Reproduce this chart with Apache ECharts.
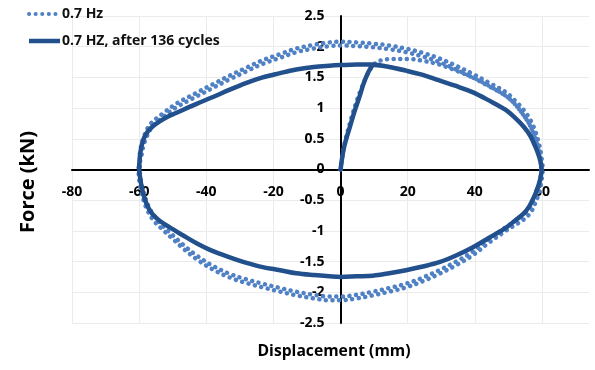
<!DOCTYPE html>
<html>
<head>
<meta charset="utf-8">
<script src="https://cdn.jsdelivr.net/npm/echarts@6/dist/echarts.min.js"></script>
<style>
  html, body { margin: 0; padding: 0; background: #fff; }
  #chart { width: 595px; height: 370px; }
</style>
</head>
<body>
<div id="chart"></div>
<script>
// Force–displacement hysteresis loops, 0.7 Hz test

const seriesNames = ['0.7 Hz', '0.7 HZ, after 136 cycles'];
const xTicks = [-80, -60, -40, -20, 0, 20, 40, 60];
const yTicks = [-2.5, -2, -1.5, -1, -0.5, 0, 0.5, 1, 1.5, 2, 2.5];

// 0.7 Hz: first loading branch, then repeated cycles (inner and outer edge of the band)
const lightLoading = [[0,0],[1.2,0.42],[3,0.8],[5,1.15],[6.5,1.36],[8.5,1.6],[10.6,1.74],[13,1.79],[15.5,1.8],[20,1.8],[24.5,1.77],[29.4,1.71],[34,1.62],[38,1.53],[42,1.43]];
const lightTopA = [[-59.8,0],[-59.4,0.2],[-58.7,0.39],[-57.6,0.55],[-56.3,0.68],[-53,0.85],[-49,1.01],[-45,1.13],[-42.9,1.19],[-38,1.33],[-33,1.47],[-28,1.6],[-23.2,1.72],[-18,1.82],[-13.2,1.91],[-8,1.97],[-3.3,2.01],[0,2.02],[4.8,2.01],[9.6,1.99],[14.5,1.96],[19.5,1.91],[24.5,1.84],[29.4,1.75],[34.4,1.63],[39.3,1.5],[44,1.36],[49.2,1.2],[52,1.06],[54.3,0.9],[56.3,0.73],[57.7,0.55],[58.8,0.36],[59.4,0.18],[59.8,0]];
const lightBottomA = [[59.8,0],[59.4,-0.16],[58.7,-0.32],[57.6,-0.49],[56.1,-0.65],[53.8,-0.77],[51.5,-0.86],[49.2,-0.94],[44,-1.14],[39.3,-1.34],[34.4,-1.5],[29.4,-1.64],[24.5,-1.76],[19.5,-1.86],[14.5,-1.93],[9.6,-1.99],[4.8,-2.04],[0,-2.07],[-3.3,-2.07],[-8,-2.04],[-13.2,-1.99],[-18,-1.93],[-23.2,-1.86],[-28,-1.79],[-33,-1.7],[-38,-1.57],[-42.9,-1.4],[-47,-1.22],[-50,-1.07],[-53,-0.92],[-55.3,-0.77],[-57.1,-0.61],[-58.4,-0.42],[-59.3,-0.23],[-59.8,0]];
const lightTopB = [[-60.2,0],[-59.8,0.24],[-59.1,0.45],[-58,0.61],[-56.7,0.74],[-53,0.91],[-49,1.07],[-45,1.19],[-42.9,1.25],[-38,1.39],[-33,1.53],[-28,1.66],[-23.2,1.78],[-18,1.88],[-13.2,1.97],[-8,2.03],[-3.3,2.07],[0,2.08],[4.8,2.07],[9.6,2.05],[14.5,2.02],[19.5,1.97],[24.5,1.9],[29.4,1.81],[34.4,1.69],[39.3,1.56],[44,1.42],[49.2,1.26],[52,1.12],[54.7,0.96],[56.7,0.79],[58.1,0.61],[59.2,0.4],[59.8,0.22],[60.2,0]];
const lightBottomB = [[60.2,0],[59.8,-0.2],[59.1,-0.38],[58,-0.55],[56.5,-0.71],[54.2,-0.83],[51.5,-0.92],[49.2,-1],[44,-1.2],[39.3,-1.4],[34.4,-1.56],[29.4,-1.7],[24.5,-1.82],[19.5,-1.92],[14.5,-1.99],[9.6,-2.05],[4.8,-2.1],[0,-2.13],[-3.3,-2.13],[-8,-2.1],[-13.2,-2.05],[-18,-1.99],[-23.2,-1.92],[-28,-1.85],[-33,-1.76],[-38,-1.63],[-42.9,-1.46],[-47,-1.28],[-50,-1.13],[-53,-0.98],[-55.7,-0.83],[-57.5,-0.67],[-58.8,-0.48],[-59.7,-0.27],[-60.2,0]];

// After 136 cycles: loading branch, then the steady loop
const darkLoading = [[0,0],[0.8,0.3],[1.7,0.5],[2.7,0.68],[4,0.92],[5.6,1.18],[7,1.42],[8.6,1.62],[10,1.7]];
const darkTop = [[-60,0],[-59.8,0.2],[-59.3,0.38],[-58.5,0.52],[-57.4,0.62],[-56,0.7],[-54,0.78],[-51.5,0.86],[-49,0.92],[-45,1.02],[-42.9,1.07],[-38,1.18],[-33,1.3],[-28,1.41],[-23.2,1.5],[-18,1.57],[-13.2,1.63],[-8,1.67],[-3.3,1.69],[0,1.7],[4.8,1.71],[9.6,1.71],[14.5,1.67],[19.5,1.61],[24.5,1.54],[29.4,1.45],[34.4,1.36],[39.3,1.26],[44,1.13],[49.2,0.97],[52,0.84],[54.5,0.7],[56.5,0.55],[57.8,0.4],[58.9,0.25],[59.6,0.12],[59.9,0]];
const darkBottom = [[59.9,0],[59.5,-0.15],[58.7,-0.3],[57.6,-0.45],[56.2,-0.6],[54.5,-0.72],[52,-0.83],[49.2,-0.95],[44,-1.12],[39.3,-1.27],[34.4,-1.4],[29.4,-1.51],[24.5,-1.58],[19.5,-1.64],[14.5,-1.69],[9.6,-1.73],[4.8,-1.74],[0,-1.75],[-3.3,-1.74],[-8,-1.72],[-13.2,-1.69],[-18,-1.64],[-23.2,-1.59],[-28,-1.52],[-33,-1.43],[-38,-1.33],[-42.9,-1.2],[-47,-1.07],[-51,-0.94],[-54,-0.83],[-56,-0.73],[-57.3,-0.62],[-58.5,-0.45],[-59.3,-0.27],[-59.8,-0.1],[-60,0]];

const lightPath = [].concat(
  lightLoading,
  lightTopA.filter(p => p[0] >= 49),
  lightBottomA.slice(1),
  lightTopB.slice(1),
  lightBottomB.slice(1),
  lightTopA.slice(1)
);
const darkPath = [].concat(
  darkLoading,
  darkTop.filter(p => p[0] >= 14),
  darkBottom.slice(1),
  darkTop.slice(1)
);

const FONT = '"Open Sans", "Liberation Sans", sans-serif';
const LIGHT = '#4f81c4';
const DARK = '#22508c';
const LIGHT_DASH = [0.1, 6.5];

// plot box and axis ranges
const W = 595, H = 370;
const GRID = { left: 72, right: 6, top: 16, bottom: 47 };
const X_MIN = xTicks[0], X_MAX = 74;
const Y_MIN = yTicks[0], Y_MAX = yTicks[yTicks.length - 1];
const plotW = W - GRID.left - GRID.right;
const plotH = H - GRID.top - GRID.bottom;
// the axes cross at the origin, so shift each axis (with its labels) in to zero
const yAxisShift = -plotW * (0 - X_MIN) / (X_MAX - X_MIN);
const xAxisShift = -plotH * (0 - Y_MIN) / (Y_MAX - Y_MIN);

const chart = echarts.init(document.getElementById('chart'), null, { renderer: 'canvas' });

// legend samples and labels
const legendRows = [
  { y: 14, name: seriesNames[0], style: { stroke: LIGHT, lineWidth: 4, lineDash: LIGHT_DASH, lineCap: 'round' } },
  { y: 41, name: seriesNames[1], style: { stroke: DARK, lineWidth: 4.5, lineCap: 'butt' } }
];
const legendGraphics = [];
legendRows.forEach(r => {
  legendGraphics.push({ type: 'line', shape: { x1: 29, y1: r.y, x2: 60, y2: r.y }, style: r.style, z: 10 });
  legendGraphics.push({
    type: 'text', x: 62, y: r.y, z: 10,
    style: { text: r.name, font: '700 14px ' + FONT, fill: '#111', align: 'left', verticalAlign: 'middle' }
  });
});

chart.setOption({
  animation: false,
  backgroundColor: '#ffffff',
  textStyle: { fontFamily: FONT },
  grid: { left: GRID.left, right: GRID.right, top: GRID.top, bottom: GRID.bottom, containLabel: false },
  xAxis: {
    type: 'value',
    min: X_MIN,
    max: X_MAX,
    interval: 20,
    offset: xAxisShift,
    axisLine: { onZero: false, lineStyle: { color: '#000', width: 2 } },
    axisTick: { show: false },
    axisLabel: {
      showMaxLabel: false,
      margin: 16,
      fontFamily: FONT, fontWeight: 700, fontSize: 14, color: '#000',
      formatter: v => (xTicks.indexOf(v) >= 0 ? String(v) : '')
    },
    splitLine: { show: true, showMaxLine: false, lineStyle: { color: '#ebebeb', width: 1 } }
  },
  yAxis: {
    type: 'value',
    min: Y_MIN,
    max: Y_MAX,
    interval: 0.5,
    offset: yAxisShift,
    axisLine: { onZero: false, lineStyle: { color: '#000', width: 2 } },
    axisTick: { show: false },
    axisLabel: {
      margin: 16,
      fontFamily: FONT, fontWeight: 700, fontSize: 14, color: '#000',
      formatter: v => String(v)
    },
    splitLine: { show: true, lineStyle: { color: '#ebebeb', width: 1 } }
  },
  graphic: legendGraphics.concat([
    {
      type: 'text',
      x: 28, y: 182,
      rotation: Math.PI / 2,
      style: {
        text: 'Force (kN)',
        font: '700 20px ' + FONT,
        fill: '#000',
        align: 'center',
        verticalAlign: 'middle'
      }
    },
    {
      type: 'text',
      x: 334, y: 352,
      style: {
        text: 'Displacement (mm)',
        font: '700 15.7px ' + FONT,
        fill: '#000',
        align: 'center',
        verticalAlign: 'middle'
      }
    }
  ]),
  series: [
    {
      name: seriesNames[0],
      type: 'line',
      data: lightPath,
      showSymbol: false,
      symbol: 'none',
      smooth: 0.35,
      z: 2,
      color: LIGHT,
      lineStyle: { color: LIGHT, width: 4.5, type: LIGHT_DASH, cap: 'round' }
    },
    {
      name: seriesNames[1],
      type: 'line',
      data: darkPath,
      showSymbol: false,
      symbol: 'none',
      smooth: 0.35,
      z: 3,
      color: DARK,
      lineStyle: { color: DARK, width: 4.5, cap: 'round', join: 'round' }
    }
  ]
});
</script>
</body>
</html>
